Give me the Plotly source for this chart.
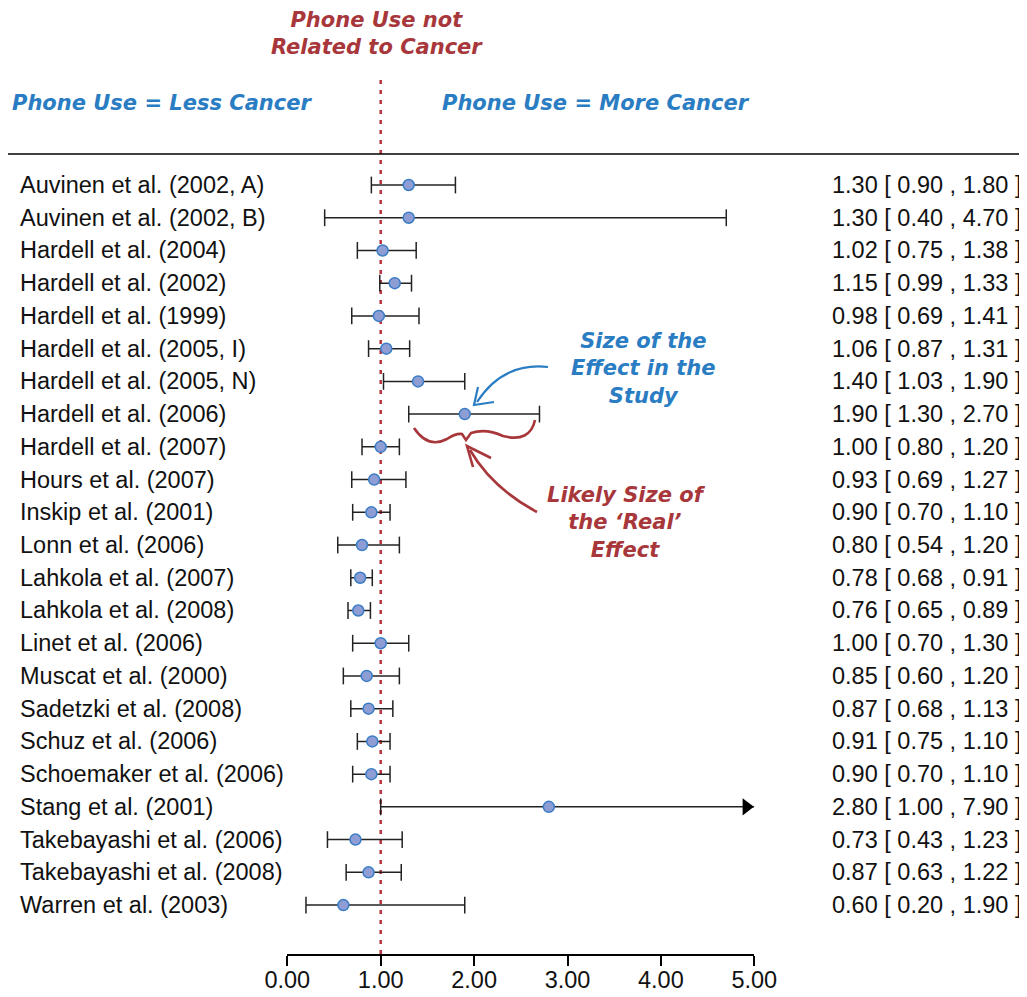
import plotly.graph_objects as go

studies = ["Auvinen et al. (2002, A)", "Auvinen et al. (2002, B)", "Hardell et al. (2004)",
           "Hardell et al. (2002)", "Hardell et al. (1999)", "Hardell et al. (2005, I)",
           "Hardell et al. (2005, N)", "Hardell et al. (2006)", "Hardell et al. (2007)",
           "Hours et al. (2007)", "Inskip et al. (2001)", "Lonn et al. (2006)",
           "Lahkola et al. (2007)", "Lahkola et al. (2008)", "Linet et al. (2006)",
           "Muscat et al. (2000)", "Sadetzki et al. (2008)", "Schuz et al. (2006)",
           "Schoemaker et al. (2006)", "Stang et al. (2001)", "Takebayashi et al. (2006)",
           "Takebayashi et al. (2008)", "Warren et al. (2003)"]
estimate = [1.30, 1.30, 1.02, 1.15, 0.98, 1.06, 1.40, 1.90, 1.00, 0.93, 0.90, 0.80,
            0.78, 0.76, 1.00, 0.85, 0.87, 0.91, 0.90, 2.80, 0.73, 0.87, 0.60]
ci_low = [0.90, 0.40, 0.75, 0.99, 0.69, 0.87, 1.03, 1.30, 0.80, 0.69, 0.70, 0.54,
          0.68, 0.65, 0.70, 0.60, 0.68, 0.75, 0.70, 1.00, 0.43, 0.63, 0.20]
ci_high = [1.80, 4.70, 1.38, 1.33, 1.41, 1.31, 1.90, 2.70, 1.20, 1.27, 1.10, 1.20,
           0.91, 0.89, 1.30, 1.20, 1.13, 1.10, 1.10, 7.90, 1.23, 1.22, 1.90]
tick_vals = [0, 1, 2, 3, 4, 5]
tick_text = ["0.00", "1.00", "2.00", "3.00", "4.00", "5.00"]

XMAX = 5.0
W, H = 1027, 997
OFF = 8            # page body offset of the figure in the screenshot
AXIS_Y = 954       # screen y of the x axis line
PH = AXIS_Y - OFF  # plot area height (top margin 0)
MB = H - PH
ROW0 = 185         # screen y of first row
ROWSTEP = 32.73

RED = "#A8373B"
BLUE = "#2A7DC2"
LABEL_FONT = dict(family="Liberation Sans, Arial, sans-serif", size=23.5, color="#111111")
HAND_FONT = "DejaVu Sans, sans-serif"

n = len(studies)
rows = list(range(n))


def sx(x):
    return (x - OFF) / W


def sy(y):
    return 1 - (y - OFF) / PH


fig = go.Figure()

# CI lines
lx, ly = [], []
cap_x, cap_y = [], []
arrow_x, arrow_y = [], []
for i in rows:
    hi = min(ci_high[i], XMAX)
    lx += [ci_low[i], hi, None]
    ly += [i, i, None]
    cap_x.append(ci_low[i]); cap_y.append(i)
    if ci_high[i] <= XMAX:
        cap_x.append(ci_high[i]); cap_y.append(i)
    else:
        arrow_x.append(XMAX - 0.085); arrow_y.append(i)

fig.add_trace(go.Scatter(x=lx, y=ly, mode="lines", line=dict(color="#222222", width=1.5),
                         hoverinfo="skip", showlegend=False, cliponaxis=False))
fig.add_trace(go.Scatter(x=cap_x, y=cap_y, mode="markers",
                         marker=dict(symbol="line-ns-open", size=12, color="#222222",
                                     line=dict(color="#222222", width=1.5)),
                         hoverinfo="skip", showlegend=False, cliponaxis=False))
fig.add_trace(go.Scatter(x=arrow_x, y=arrow_y, mode="markers",
                         marker=dict(symbol="triangle-right", size=15, color="black", line=dict(width=0)),
                         hoverinfo="skip", showlegend=False, cliponaxis=False))
fig.add_trace(go.Scatter(x=estimate, y=rows, mode="markers",
                         marker=dict(symbol="circle", size=11, color="#8E9DD4",
                                     line=dict(color="#3A7DC6", width=1.5)),
                         showlegend=False, cliponaxis=False))

# reference line at 1
fig.add_shape(type="line", xref="x", yref="paper", x0=1, x1=1, y0=0, y1=sy(78),
              line=dict(color="#B8323C", width=2.5, dash="4px,6px"), layer="below")

# header rule
fig.add_shape(type="line", xref="paper", yref="paper", x0=sx(8), x1=1, y0=sy(154), y1=sy(154),
              line=dict(color="black", width=1.5))

annotations = []
for i in rows:
    annotations.append(dict(x=sx(18), y=i, xref="paper", yref="y", text=studies[i],
                            xanchor="left", yanchor="middle", showarrow=False, font=LABEL_FONT))
    annotations.append(dict(x=sx(1023), y=i, xref="paper", yref="y",
                            text=f"{estimate[i]:.2f} [ {ci_low[i]:.2f} , {ci_high[i]:.2f} ]",
                            xanchor="right", yanchor="middle", showarrow=False, font=LABEL_FONT))


def hand(text, x, y, color, anchor="center", size=21):
    return dict(x=sx(x), y=sy(y), xref="paper", yref="paper", text=text, showarrow=False,
                xanchor=anchor, yanchor="middle", align="center",
                font=dict(family=HAND_FONT, size=size, color=color, style="italic", weight="bold"))


annotations += [
    hand("Phone Use not<br>Related to Cancer", 377, 34, RED),
    hand("Phone Use = Less Cancer", 10, 103, BLUE, anchor="left"),
    hand("Phone Use = More Cancer", 596, 103, BLUE),
    hand("Size of the<br>Effect in the<br>Study", 643, 368, BLUE),
    hand("Likely Size of<br>the ‘Real’<br>Effect", 626, 522, RED),
]


def path(cmds):
    out = []
    for tok in cmds:
        if isinstance(tok, str):
            out.append(tok)
        else:
            out.append(f"{sx(tok[0]):.5f},{sy(tok[1]):.5f}")
    return " ".join(out)


# blue arrow
fig.add_shape(type="path", xref="paper", yref="paper",
              path=path(["M", (548, 367), "Q", (503, 362), (477, 402)]),
              line=dict(color=BLUE, width=2.2))
fig.add_shape(type="path", xref="paper", yref="paper",
              path=path(["M", (478, 387), "L", (474, 405), "L", (494, 402)]),
              line=dict(color=BLUE, width=2.2))
# red arrow
fig.add_shape(type="path", xref="paper", yref="paper",
              path=path(["M", (537, 512), "Q", (492, 488), (470, 450)]),
              line=dict(color=RED, width=2.6))
fig.add_shape(type="path", xref="paper", yref="paper",
              path=path(["M", (473, 467), "L", (467, 446), "L", (491, 458)]),
              line=dict(color=RED, width=2.6))
# red brace
fig.add_shape(type="path", xref="paper", yref="paper",
              path=path(["M", (414, 428), "Q", (428, 449), (447, 439),
                         "Q", (456, 433), (462, 434), "L", (466, 440), "L", (471, 433),
                         "Q", (486, 428), (503, 436), "Q", (530, 443), (535, 420)]),
              line=dict(color=RED, width=2.6))

fig.update_layout(
    width=W, height=H,
    margin=dict(l=0, r=0, t=0, b=MB, autoexpand=False),
    paper_bgcolor="white", plot_bgcolor="white",
    showlegend=False,
    annotations=annotations,
    xaxis=dict(domain=[sx(287.3), sx(754.3)], range=[0, XMAX], tickvals=tick_vals, ticktext=tick_text,
               showline=True, linecolor="black", linewidth=1.5, ticks="outside", ticklen=10,
               tickwidth=1.5, tickcolor="black", showgrid=False, zeroline=False, automargin=False,
               ticklabelstandoff=-6,
               tickfont=dict(family="Liberation Sans, Arial, sans-serif", size=23.5, color="#111111"),
               fixedrange=True),
    yaxis=dict(range=[(PH - (ROW0 - OFF)) / ROWSTEP, -(ROW0 - OFF) / ROWSTEP], visible=False,
               showgrid=False, zeroline=False, fixedrange=True, automargin=False),
)

fig.write_html("out.html")
